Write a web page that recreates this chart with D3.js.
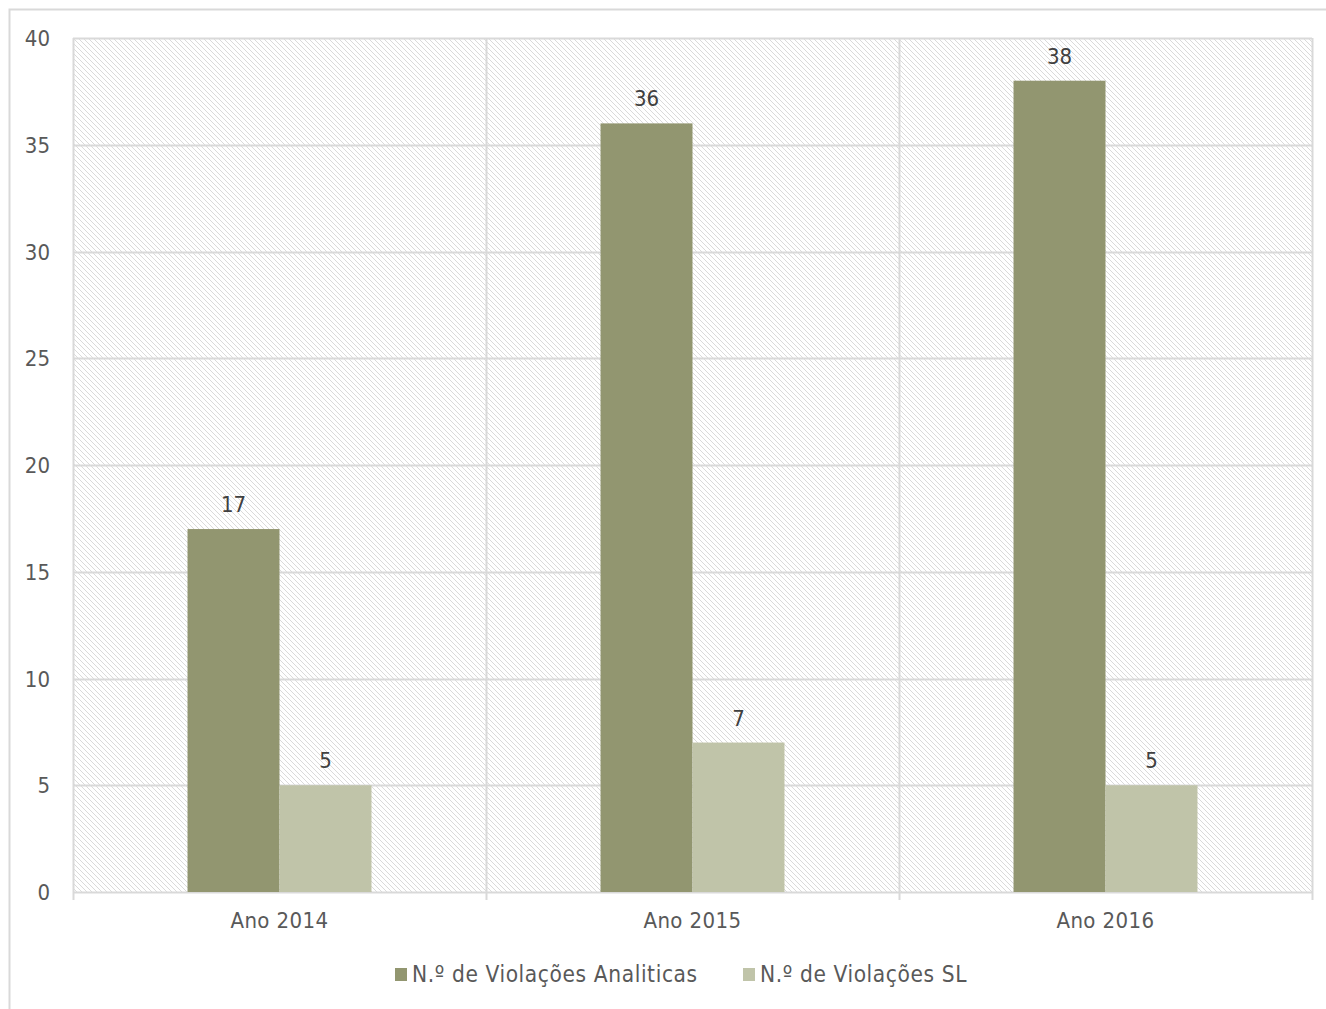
<!DOCTYPE html>
<html><head><meta charset="utf-8">
<script src="https://cdn.jsdelivr.net/npm/d3@7"></script>
<style>body{margin:0;background:#fff;} svg{display:block;}</style>
</head><body>
<div id="chart"></div>
<script>
const categories = ["Ano 2014", "Ano 2015", "Ano 2016"];
const seriesNames = ["N.º de Violações Analiticas", "N.º de Violações SL"];
const analiticas = [17, 36, 38];
const sl = [5, 7, 5];
const yTicks = [0, 5, 10, 15, 20, 25, 30, 35, 40];
const colors = ["#929670", "#c0c4a9"];

const W = 1326, H = 1009;
const m = {left: 73, top: 38, right: 1312, bottom: 892};
const font = "'DejaVu Sans Condensed', 'DejaVu Sans', sans-serif";
const textColor = "#595959";
const gridColor = "#d9d9d9";

const svg = d3.select("#chart").append("svg").attr("width", W).attr("height", H);

// hatch pattern
const defs = svg.append("defs");
const pat = defs.append("pattern").attr("id", "hatch").attr("patternUnits", "userSpaceOnUse")
  .attr("width", 5).attr("height", 5);
pat.append("rect").attr("width", 5).attr("height", 5).attr("fill", "#fff");
pat.append("path").attr("d", "M-1,-1 L6,6 M-1,4 L1,6 M4,-1 L6,1")
  .attr("stroke", "#dadada").attr("stroke-width", 1);

// outer border
svg.append("rect").attr("x", 9.5).attr("y", 9.5).attr("width", W + 10).attr("height", H + 10)
  .attr("fill", "none").attr("stroke", gridColor).attr("stroke-width", 2);

const x = d3.scaleBand().domain(categories).range([m.left, m.right]);
const y = d3.scaleLinear().domain([0, 40]).range([m.bottom, m.top]);
const inner = d3.scaleBand().domain([0, 1]).range([0, x.bandwidth()]).paddingOuter(1.245);

svg.append("rect").attr("x", m.left).attr("y", m.top)
  .attr("width", m.right - m.left).attr("height", m.bottom - m.top).attr("fill", "url(#hatch)");

// horizontal grid
svg.append("g").selectAll("line").data(yTicks).join("line")
  .attr("x1", m.left).attr("x2", m.right)
  .attr("y1", d => Math.round(y(d)) + 0.5).attr("y2", d => Math.round(y(d)) + 0.5)
  .attr("stroke", gridColor).attr("stroke-width", 2);

// vertical grid at category boundaries
const bounds = categories.map(c => x(c)).concat([m.right]);
svg.append("g").selectAll("line").data(bounds).join("line")
  .attr("x1", d => Math.round(d) + 0.5).attr("x2", d => Math.round(d) + 0.5)
  .attr("y1", m.top).attr("y2", m.bottom + 8)
  .attr("stroke", gridColor).attr("stroke-width", 2);

// y tick labels
svg.append("g").selectAll("text").data(yTicks).join("text")
  .attr("x", 50).attr("y", d => y(d) + 8)
  .attr("text-anchor", "end").attr("font-family", font).attr("font-size", 22)
  .attr("fill", textColor).text(d => d);

// bars
const data = categories.map((c, i) => ({cat: c, vals: [analiticas[i], sl[i]]}));
const groups = svg.append("g").selectAll("g").data(data).join("g")
  .attr("transform", d => `translate(${x(d.cat)},0)`);
groups.selectAll("rect").data(d => d.vals.map((v, j) => ({v, j}))).join("rect")
  .attr("x", d => inner(d.j)).attr("width", inner.bandwidth())
  .attr("y", d => y(d.v)).attr("height", d => y(0) - y(d.v))
  .attr("fill", d => colors[d.j]);
groups.selectAll("text").data(d => d.vals.map((v, j) => ({v, j}))).join("text")
  .attr("x", d => inner(d.j) + inner.bandwidth() / 2).attr("y", d => y(d.v) - 17)
  .attr("text-anchor", "middle").attr("font-family", font).attr("font-size", 22)
  .attr("fill", "#404040").text(d => d.v);

// x labels
svg.append("g").selectAll("text").data(categories).join("text")
  .attr("x", d => x(d) + x.bandwidth() / 2).attr("y", 928)
  .attr("text-anchor", "middle").attr("font-family", font).attr("font-size", 22)
  .attr("letter-spacing", 0.4)
  .attr("fill", textColor).text(d => d);

// legend
const legendItems = [{name: seriesNames[0], x: 395}, {name: seriesNames[1], x: 743}];
const lg = svg.append("g").selectAll("g").data(legendItems).join("g")
  .attr("transform", d => `translate(${d.x},0)`);
lg.append("rect").attr("x", 0).attr("y", 968).attr("width", 12).attr("height", 13)
  .attr("fill", (d, i) => colors[i]);
lg.append("text").attr("x", 17).attr("y", 982).attr("font-family", font).attr("font-size", 22.5)
  .attr("letter-spacing", 0.6)
  .attr("fill", textColor).text(d => d.name);
</script>
</body></html>
